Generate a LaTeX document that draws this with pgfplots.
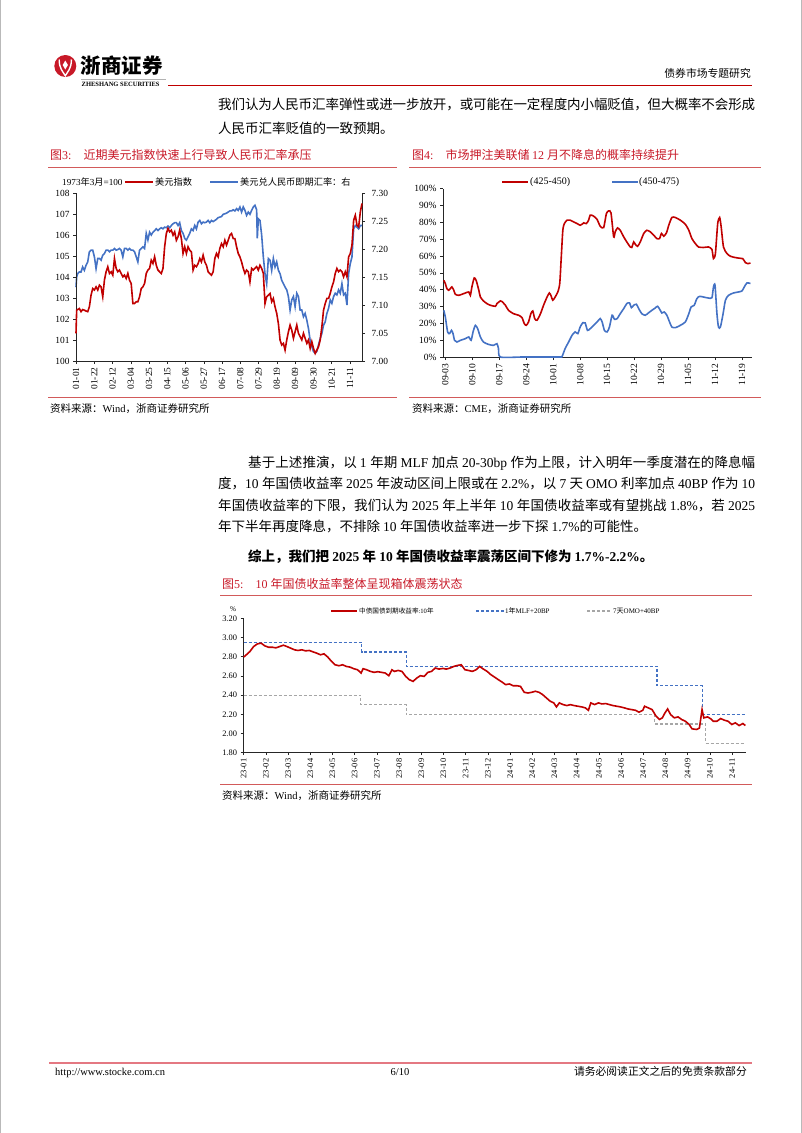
\documentclass[border=0pt]{standalone}
\usepackage{pgfplots}
\pgfplotsset{compat=1.18}
\usepackage{fontspec}
\setmainfont{Liberation Serif}
\newfontfamily\cjk{Noto Sans CJK SC}
% automatic switching between Latin (Liberation Serif) and CJK (Noto Sans CJK SC)
\XeTeXinterchartokenstate=1
\newXeTeXintercharclass\CJKcls
\makeatletter
\@tempcnta="3000
\loop\ifnum\@tempcnta<"3040 \XeTeXcharclass\@tempcnta=\CJKcls \advance\@tempcnta by 1 \repeat
\@tempcnta="4E00
\loop\ifnum\@tempcnta<"9FB0 \XeTeXcharclass\@tempcnta=\CJKcls \advance\@tempcnta by 1 \repeat
\@tempcnta="FF00
\loop\ifnum\@tempcnta<"FF60 \XeTeXcharclass\@tempcnta=\CJKcls \advance\@tempcnta by 1 \repeat
\makeatother
\XeTeXinterchartoks 0 \CJKcls = {\cjk}
\XeTeXinterchartoks 4095 \CJKcls = {\cjk}
\XeTeXinterchartoks \CJKcls 0 = {\rmfamily}
\XeTeXinterchartoks 4095 0 = {\rmfamily}
\XeTeXinterchartoks \CJKcls \CJKcls = {\hskip 0pt plus 0.8pt minus 0.2pt}

\definecolor{dred}{RGB}{192,0,0}
\definecolor{tred}{RGB}{200,25,40}
\definecolor{lred}{RGB}{210,90,90}
\definecolor{bblue}{RGB}{68,114,196}
\definecolor{ggray}{RGB}{166,166,166}
\definecolor{fpink}{RGB}{228,120,130}

\tikzset{tx/.style={inner sep=0pt, anchor=base west}}
\pgfplotsset{
  base/.style={scale only axis, clip=false,
    axis line style={black!85, line width=0.6pt},
    tick style={black!85, line width=0.5pt},
    major tick length=3pt, tick align=outside,
    minor tick num=0},
  c3/.style={base, width=286pt, height=168pt, at={(76pt,-361pt)}, anchor=south west,
    xmin=0, xmax=171,
    ticklabel style={font=\fontsize{9.4}{9.4}\selectfont}},
}

\begin{document}
\begin{tikzpicture}
\begin{scope}[x=1pt,y=-1pt]
\path[use as bounding box] (0,0) rectangle (802,1133);
\draw[gray!55, line width=1pt] (0.5,0)--(0.5,1133) (801.5,0)--(801.5,1133);
% ---------- header ----------
\fill[tred] (65.3,66) circle (11);
\draw[white, line width=1.4] (59.2,59.5) .. controls (59.2,69) and (63,71.5) .. (65.3,75.8) .. controls (67.6,71.5) and (71.4,69) .. (71.4,59.5);
\fill[white] (65.3,60.5) -- (67.9,65) -- (65.3,69.5) -- (62.7,65) -- cycle;
\node[tx, font=\fontsize{20.5}{21}\selectfont\bfseries] at (80.5,73.5) {浙商证券};
\draw[gray!60, line width=0.4] (81,79.3)--(166,79.3);
\node[tx, font=\fontsize{6.5}{7}\selectfont\bfseries] at (81.5,86) {ZHESHANG SECURITIES};
\draw[dred, line width=1.5] (168,85.5)--(752,85.5);
\node[inner sep=0pt, anchor=base east, font=\fontsize{10.8}{11}\selectfont] at (751,77.5) {债券市场专题研究};
% ---------- paragraph 1 ----------
\node[tx, font=\fontsize{13.5}{14}\selectfont] at (218,109) {\makebox[537pt][s]{我们认为人民币汇率弹性或进一步放开，或可能在一定程度内小幅贬值，但大概率不会形成}};
\node[tx, font=\fontsize{13.5}{14}\selectfont] at (218,133) {人民币汇率贬值的一致预期。};
% ---------- figure titles ----------
\node[tx, text=tred, font=\fontsize{12}{12}\selectfont] at (50,159.5) {图3:\hspace{1em}近期美元指数快速上行导致人民币汇率承压};
\node[tx, text=tred, font=\fontsize{12}{12}\selectfont] at (412,159.5) {图4:\hspace{1em}市场押注美联储 12 月不降息的概率持续提升};
\draw[lred, line width=0.7] (48,167)--(397,167) (409,167)--(761,167);
\draw[lred, line width=0.7] (48,397)--(397,397) (409,397)--(761,397);
\node[tx, font=\fontsize{10.5}{11}\selectfont] at (50,412.5) {资料来源：Wind，浙商证券研究所};
\node[tx, font=\fontsize{10.5}{11}\selectfont] at (412,412.5) {资料来源：CME，浙商证券研究所};
% legend chart 3
\node[inner sep=0pt, anchor=west, font=\fontsize{9.2}{9.2}\selectfont] at (62,182) {1973年3月=100};
\draw[dred, line width=2] (125,182)--(153,182);
\node[inner sep=0pt, anchor=west, font=\fontsize{9.2}{9.2}\selectfont] at (155,182) {美元指数};
\draw[bblue, line width=2] (210,182)--(238,182);
\node[inner sep=0pt, anchor=west, font=\fontsize{9.2}{9.2}\selectfont] at (240,182) {美元兑人民币即期汇率：右};
% legend chart 4
\draw[dred, line width=2] (502,182)--(528,182);
\node[inner sep=0pt, anchor=west, font=\fontsize{10}{10}\selectfont] at (530,182) {(425-450)};
\draw[bblue, line width=2] (612,182)--(638,182);
\node[inner sep=0pt, anchor=west, font=\fontsize{10}{10}\selectfont] at (639,182) {(450-475)};
% ---------- paragraph 2 ----------
\node[tx, font=\fontsize{13.5}{14}\selectfont] at (248,467) {\makebox[507pt][s]{基于上述推演，以 1 年期 MLF 加点 20-30bp 作为上限，计入明年一季度潜在的降息幅}};
\node[tx, font=\fontsize{13.5}{14}\selectfont] at (218,488.5) {\makebox[537pt][s]{度，10 年国债收益率 2025 年波动区间上限或在 2.2\%，以 7 天 OMO 利率加点 40BP 作为 10}};
\node[tx, font=\fontsize{13.5}{14}\selectfont] at (218,510) {\makebox[537pt][s]{年国债收益率的下限，我们认为 2025 年上半年 10 年国债收益率或有望挑战 1.8\%，若 2025}};
\node[tx, font=\fontsize{13.5}{14}\selectfont] at (218,531.5) {年下半年再度降息，不排除 10 年国债收益率进一步下探 1.7\%的可能性。};
\node[tx, font=\fontsize{13.5}{14}\selectfont\bfseries] at (248,561) {综上，我们把 2025 年 10 年国债收益率震荡区间下修为 1.7\%-2.2\%。};
% ---------- figure 5 frame ----------
\node[tx, text=tred, font=\fontsize{12}{12}\selectfont] at (222,588.5) {图5:\hspace{1em}10 年国债收益率整体呈现箱体震荡状态};
\draw[lred, line width=0.7] (220,595)--(752,595) (220,784)--(752,784);
\node[tx, font=\fontsize{10.5}{11}\selectfont] at (222,799) {资料来源：Wind，浙商证券研究所};
\node[inner sep=0pt, font=\fontsize{7.2}{7.5}\selectfont] at (233,609) {\%};
\draw[dred, line width=2.2] (331,611)--(357,611);
\node[inner sep=0pt, anchor=west, font=\fontsize{6.6}{7}\selectfont] at (359,611) {中债国债到期收益率:10年};
\draw[bblue, line width=1.2, dash pattern=on 3pt off 2pt] (476,611)--(504,611);
\node[inner sep=0pt, anchor=west, font=\fontsize{7}{7}\selectfont] at (505,611) {1年MLF+20BP};
\draw[ggray, line width=1.2, dash pattern=on 3pt off 2pt] (587,611)--(611,611);
\node[inner sep=0pt, anchor=west, font=\fontsize{7}{7}\selectfont] at (613,611) {7天OMO+40BP};
% ---------- footer ----------
\draw[fpink, line width=1.5] (49,1063)--(752,1063);
\node[tx, font=\fontsize{10.5}{11}\selectfont] at (55,1075) {http://www.stocke.com.cn};
\node[inner sep=0pt, anchor=base, font=\fontsize{10.5}{11}\selectfont] at (400,1075) {6/10};
\node[inner sep=0pt, anchor=base east, font=\fontsize{10.8}{11}\selectfont] at (747,1075) {请务必阅读正文之后的免责条款部分};
\end{scope}

% ================= Figure 3 =================
\begin{axis}[c3, ymin=7, ymax=7.3,
  ytick={7,7.05,7.1,7.15,7.2,7.25,7.3},
  yticklabels={7.00,7.05,7.10,7.15,7.20,7.25,7.30},
  yticklabel style={xshift=3pt},
  axis y line*=right, axis x line=none]
\addplot[bblue, line width=1.6pt] coordinates {
(0,7.132)(0.4,7.150)(1,7.156)(2,7.159)(3,7.159)(4,7.168)(5,7.162)(6,7.171)(7,7.177)(8,7.195)(9,7.198)(10,7.198)(11,7.186)(12,7.165)(13,7.183)(14,7.183)(15,7.180)(16,7.189)(17,7.192)(18,7.198)(19,7.198)(20,7.195)(21,7.198)(22,7.198)(23,7.201)(24,7.198)(25,7.199)(26,7.201)(27,7.198)(28,7.186)(29,7.201)(30,7.201)(31,7.198)(32,7.201)(33,7.198)(34,7.198)(35,7.195)(36,7.186)(37,7.177)(38,7.198)(39,7.201)(40,7.204)(41,7.201)(42,7.228)(43,7.216)(44,7.230)(45,7.225)(46,7.230)(47,7.233)(48,7.236)(49,7.233)(50,7.236)(51,7.238)(52,7.236)(53,7.239)(54,7.238)(55,7.241)(56,7.238)(57,7.242)(58,7.245)(59,7.247)(60,7.247)(61,7.242)(62,7.247)(63,7.233)(64,7.228)(65,7.219)(66,7.216)(67,7.222)(68,7.228)(69,7.236)(70,7.233)(71,7.242)(72,7.236)(73,7.248)(74,7.251)(75,7.245)(76,7.248)(77,7.247)(78,7.248)(79,7.251)(80,7.247)(81,7.251)(82,7.249)(83,7.251)(84,7.253)(85,7.256)(86,7.257)(87,7.258)(88,7.262)(89,7.263)(90,7.264)(91,7.266)(92,7.268)(93,7.268)(94,7.270)(95,7.268)(96,7.272)(97,7.269)(98,7.275)(99,7.266)(100,7.275)(101,7.269)(102,7.260)(103,7.266)(104,7.262)(105,7.269)(106,7.275)(107,7.278)(108,7.270)(108.4,7.219)(109,7.254)(110,7.251)(111,7.225)(112,7.186)(113,7.156)(114,7.138)(115,7.183)(116,7.180)(117,7.162)(118,7.183)(119,7.168)(120,7.177)(121,7.162)(122,7.156)(123,7.144)(124,7.138)(125,7.132)(126,7.127)(127,7.115)(128,7.091)(129,7.109)(130,7.115)(131,7.097)(132,7.121)(133,7.115)(134,7.091)(135,7.091)(136,7.079)(137,7.085)(138,7.073)(139,7.058)(140,7.037)(141,7.026)(142,7.017)(143,7.014)(144,7.017)(145,7.029)(146,7.040)(147,7.049)(148,7.064)(149,7.070)(150,7.085)(151,7.094)(152,7.109)(153,7.103)(154,7.115)(155,7.121)(156,7.118)(157,7.127)(158,7.121)(159,7.138)(160,7.118)(161,7.121)(162,7.100)(163,7.156)(164,7.174)(165,7.186)(166,7.236)(167,7.242)(168,7.239)(169,7.236)(170,7.242)(171,7.242)};
\end{axis}
\begin{axis}[c3, ymin=100, ymax=108,
  ytick={100,101,102,103,104,105,106,107,108},
  yticklabels={100,101,102,103,104,105,106,107,108},
  axis y line*=left, axis x line*=bottom,
  xtick={0,10.92,21.84,32.76,43.68,54.6,65.52,76.44,87.36,98.28,109.2,120.12,131.04,141.96,152.88,163.8},
  xticklabels={01-01,01-22,02-12,03-04,03-25,04-15,05-06,05-27,06-17,07-08,07-29,08-19,09-09,09-30,10-21,11-11},
  xticklabel style={rotate=90, anchor=east}]
\addplot[dred, line width=1.6pt] coordinates {
(0,101.32)(0.4,102.42)(2,102.50)(3,102.35)(4,102.45)(5,102.42)(6,102.38)(7,102.35)(8,102.58)(9,103.14)(10,103.45)(11,103.38)(12,103.53)(13,103.38)(14,103.61)(15,103.53)(16,103.06)(17,103.85)(18,104.25)(19,104.49)(20,104.17)(21,104.25)(22,104.09)(23,104.88)(24,104.41)(25,104.25)(26,104.33)(27,104.17)(28,104.01)(29,104.09)(30,103.93)(31,104.17)(32,103.85)(33,103.69)(34,102.74)(35,102.74)(36,102.82)(37,102.82)(38,103.06)(39,103.45)(40,103.53)(41,103.69)(42,104.17)(43,104.33)(44,104.41)(45,104.80)(46,104.64)(47,104.96)(48,104.56)(49,104.33)(50,104.25)(51,104.17)(52,104.41)(53,105.44)(54,106.07)(55,106.31)(56,106.15)(57,106.23)(58,105.99)(59,106.15)(60,105.75)(61,105.91)(62,106.23)(63,105.83)(64,105.12)(65,105.44)(66,105.12)(67,105.44)(68,105.28)(69,105.20)(70,104.33)(71,104.56)(72,104.49)(73,104.64)(74,104.88)(75,104.72)(76,105.04)(77,104.72)(78,104.56)(79,104.25)(80,104.17)(81,104.09)(82,104.25)(83,104.88)(84,105.12)(85,104.96)(86,105.36)(87,105.59)(88,105.44)(89,105.75)(90,105.52)(91,105.75)(92,105.99)(93,106.07)(94,105.83)(95,105.83)(96,105.44)(97,105.12)(98,104.96)(99,104.72)(100,104.41)(101,104.17)(102,104.33)(103,104.25)(104,103.77)(105,104.41)(106,104.33)(107,104.41)(108,104.49)(109,104.33)(110,104.56)(111,104.41)(112,104.17)(113,102.74)(114,103.06)(115,103.14)(116,103.22)(117,102.82)(118,102.98)(119,102.58)(120,102.27)(121,101.79)(122,101.00)(123,100.76)(124,100.84)(125,100.52)(126,101.00)(127,101.39)(128,101.71)(129,101.47)(130,101.08)(131,101.39)(132,101.71)(133,101.32)(134,101.16)(135,101.00)(136,101.32)(137,101.08)(138,100.84)(139,101.00)(140,100.60)(141,100.92)(142,100.60)(143,100.36)(144,100.52)(145,100.68)(146,101.00)(147,101.63)(148,102.42)(149,102.74)(150,102.98)(151,102.98)(152,103.22)(153,103.53)(154,103.77)(155,104.17)(156,104.41)(157,104.25)(158,104.33)(159,104.25)(160,104.01)(161,104.25)(162,104.01)(163,104.96)(164,105.12)(165,105.52)(166,106.70)(167,106.94)(168,106.47)(169,106.39)(170,107.10)(171,107.50)};
\end{axis}

% ================= Figure 4 =================
\begin{axis}[base, width=309pt, height=168.5pt, at={(443pt,-357pt)}, anchor=south west,
  xmin=-0.6, xmax=79.6, ymin=0, ymax=100,
  axis y line*=left, axis x line*=bottom,
  ticklabel style={font=\fontsize{9.5}{9.5}\selectfont},
  ytick={0,10,20,30,40,50,60,70,80,90,100},
  yticklabels={0\%,10\%,20\%,30\%,40\%,50\%,60\%,70\%,80\%,90\%,100\%},
  xtick={0,7,14,21,28,35,42,49,56,63,70,77},
  xticklabels={09-03,09-10,09-17,09-24,10-01,10-08,10-15,10-22,10-29,11-05,11-12,11-19},
  xticklabel style={rotate=90, anchor=east}]
\addplot[dred, line width=1.6pt, smooth, tension=0.4] coordinates {
(-0.4,45.5)(0,43.6)(0.4,40.6)(0.9,39.6)(1.3,40.6)(1.7,41.6)(2.2,39.6)(2.6,37.2)(3.5,36.6)(4.3,37.2)(5.2,38.0)(6.1,38.6)(6.5,36.6)(6.9,41.6)(7.5,46.9)(8.0,45.5)(8.7,39.6)(9.1,35.6)(9.9,33.3)(10.8,31.7)(11.7,30.7)(13.0,30.1)(13.4,31.7)(14.3,33.3)(14.7,32.9)(15.6,30.7)(16.4,27.7)(17.7,25.7)(19.0,24.8)(19.9,23.4)(20.5,19.8)(21.0,18.8)(21.6,20.8)(22.2,25.7)(22.7,27.3)(23.2,22.8)(23.8,21.8)(24.7,25.7)(25.5,30.7)(26.4,35.6)(27.0,38.0)(27.4,36.6)(27.9,33.7)(28.5,35.6)(29.2,38.6)(29.7,43.6)(30.1,59.4)(30.5,75.2)(30.9,79.2)(31.6,81.2)(32.4,81.2)(33.3,80.2)(34.2,79.2)(35.0,78.2)(35.5,78.8)(35.9,79.6)(36.6,79.2)(37.2,81.2)(37.6,84.2)(38.5,83.6)(39.4,81.6)(40.2,77.6)(41.1,76.8)(41.8,85.1)(42.4,86.7)(43.0,85.5)(43.7,71.3)(44.1,74.3)(44.7,76.6)(45.4,75.2)(46.3,71.3)(47.1,68.3)(48.0,65.3)(48.4,65.0)(48.9,68.3)(49.3,66.9)(49.9,65.7)(50.6,68.3)(51.5,73.3)(52.3,75.2)(53.2,74.3)(54.1,72.3)(54.9,70.3)(55.6,70.3)(56.1,73.3)(56.7,71.7)(57.4,73.7)(58.0,78.2)(58.8,82.8)(59.7,82.8)(61.0,81.2)(62.3,78.8)(63.2,75.2)(64.0,70.3)(64.9,67.3)(65.7,65.3)(67.0,65.0)(68.3,65.3)(69.2,63.8)(69.6,58.4)(70.1,61.4)(70.7,79.2)(71.2,82.8)(71.6,77.2)(72.2,65.3)(73.1,61.4)(74.0,59.8)(75.3,59.0)(76.5,58.6)(77.2,58.4)(77.9,56.0)(78.5,55.4)(79.2,55.8)};
\addplot[bblue, line width=1.6pt, smooth, tension=0.4] coordinates {
(-0.4,27.7)(0,23.8)(0.6,14.9)(1.1,13.9)(1.6,15.8)(2.0,13.9)(2.4,9.9)(3.0,8.9)(3.9,9.9)(5.2,10.9)(6.1,11.9)(6.7,9.9)(7.2,14.9)(7.8,18.8)(8.4,16.8)(9.1,11.9)(9.9,8.9)(11.2,7.5)(12.5,6.9)(13.4,7.9)(13.8,5.0)(14.3,0)(20,0)(25,0)(29.8,0)(30.3,0.3)(31.1,5.0)(32.0,8.9)(32.9,12.9)(33.7,14.9)(34.4,13.9)(35.0,17.8)(35.7,20.4)(36.3,20.2)(36.9,15.8)(37.6,16.8)(38.5,18.8)(39.4,20.8)(40.2,22.8)(40.7,20.8)(41.3,15.8)(42.0,14.9)(42.6,17.8)(43.3,24.8)(43.9,22.4)(44.6,22.8)(45.4,25.7)(46.3,28.7)(47.1,31.7)(47.8,32.1)(48.3,29.3)(48.9,30.7)(49.6,31.3)(50.2,28.7)(51.0,25.7)(51.9,24.8)(52.8,26.3)(53.6,27.7)(54.5,29.1)(55.1,30.1)(55.8,27.7)(56.2,26.1)(56.8,26.7)(57.5,24.8)(58.2,20.8)(58.8,17.8)(59.7,17.4)(61.0,18.8)(62.3,20.8)(63.2,25.7)(63.8,29.7)(64.6,30.7)(65.3,34.7)(66.0,36.0)(67.0,35.6)(68.3,35.0)(69.2,35.2)(69.6,41.6)(70.0,42.6)(70.5,25.7)(70.9,17.8)(71.4,17.8)(72.1,25.7)(72.7,33.7)(73.5,36.6)(74.8,38.0)(76.1,38.6)(77.0,39.2)(77.6,41.6)(78.3,44.0)(79.2,43.6)};
\end{axis}

% ================= Figure 5 =================
\begin{axis}[base, width=503pt, height=134.4pt, at={(243pt,-752.7pt)}, anchor=south west,
  xmin=-0.03, xmax=22.63, ymin=1.8, ymax=3.2,
  axis y line*=left, axis x line*=bottom,
  ticklabel style={font=\fontsize{8.4}{8.4}\selectfont},
  ytick={1.8,2.0,2.2,2.4,2.6,2.8,3.0,3.2},
  yticklabels={1.80,2.00,2.20,2.40,2.60,2.80,3.00,3.20},
  xtick={0,1,2,3,4,5,6,7,8,9,10,11,12,13,14,15,16,17,18,19,20,21,22},
  xticklabels={23-01,23-02,23-03,23-04,23-05,23-06,23-07,23-08,23-09,23-10,23-11,23-12,24-01,24-02,24-03,24-04,24-05,24-06,24-07,24-08,24-09,24-10,24-11},
  xticklabel style={rotate=90, anchor=east},
  major tick length=2.5pt]
\addplot[ggray, line width=1.2pt, dash pattern=on 3pt off 2pt] coordinates {
(0,2.40)(5.26,2.40)(5.26,2.30)(7.32,2.30)(7.32,2.20)(18.52,2.20)(18.52,2.10)(20.8,2.10)(20.8,1.90)(22.6,1.90)};
\addplot[bblue, line width=1.2pt, dash pattern=on 3pt off 2pt] coordinates {
(0,2.95)(5.32,2.95)(5.32,2.85)(7.32,2.85)(7.32,2.70)(18.62,2.70)(18.62,2.50)(20.66,2.50)(20.66,2.20)(22.6,2.20)};
\addplot[dred, line width=1.6pt] coordinates {
(0,2.796)(0.12,2.820)(0.28,2.854)(0.45,2.906)(0.62,2.934)(0.79,2.941)(0.95,2.913)(1.12,2.899)(1.29,2.899)(1.45,2.892)(1.62,2.906)(1.79,2.920)(1.95,2.906)(2.12,2.889)(2.29,2.872)(2.45,2.865)(2.62,2.872)(2.79,2.861)(2.96,2.865)(3.12,2.851)(3.29,2.837)(3.46,2.820)(3.62,2.830)(3.79,2.796)(3.96,2.751)(4.12,2.716)(4.29,2.706)(4.46,2.716)(4.62,2.699)(4.79,2.692)(4.96,2.675)(5.13,2.664)(5.29,2.630)(5.38,2.675)(5.54,2.664)(5.71,2.647)(5.88,2.637)(6.04,2.644)(6.21,2.637)(6.38,2.630)(6.54,2.602)(6.68,2.664)(6.79,2.647)(6.96,2.657)(7.13,2.647)(7.30,2.595)(7.46,2.561)(7.63,2.543)(7.80,2.578)(7.96,2.602)(8.13,2.595)(8.30,2.637)(8.46,2.647)(8.63,2.682)(8.80,2.671)(8.97,2.678)(9.13,2.671)(9.30,2.682)(9.47,2.699)(9.63,2.709)(9.80,2.716)(9.97,2.664)(10.13,2.657)(10.30,2.647)(10.47,2.664)(10.63,2.699)(10.80,2.671)(10.97,2.647)(11.14,2.612)(11.30,2.588)(11.47,2.561)(11.64,2.536)(11.80,2.509)(11.97,2.516)(12.14,2.498)(12.30,2.498)(12.47,2.491)(12.64,2.429)(12.81,2.422)(12.97,2.429)(13.14,2.440)(13.31,2.429)(13.47,2.405)(13.64,2.370)(13.81,2.336)(13.97,2.319)(14.09,2.277)(14.22,2.319)(14.39,2.301)(14.56,2.291)(14.72,2.301)(14.89,2.291)(15.06,2.284)(15.23,2.277)(15.39,2.267)(15.53,2.242)(15.64,2.319)(15.81,2.301)(15.98,2.319)(16.14,2.308)(16.31,2.312)(16.48,2.301)(16.64,2.291)(16.81,2.284)(16.98,2.277)(17.15,2.267)(17.31,2.256)(17.48,2.249)(17.65,2.242)(17.81,2.222)(17.98,2.242)(18.06,2.284)(18.23,2.267)(18.40,2.249)(18.56,2.187)(18.73,2.146)(18.86,2.163)(18.98,2.215)(19.10,2.256)(19.23,2.198)(19.40,2.163)(19.57,2.173)(19.73,2.146)(19.90,2.128)(20.07,2.094)(20.20,2.049)(20.40,2.042)(20.53,2.056)(20.65,2.249)(20.73,2.163)(20.90,2.173)(21.04,2.153)(21.15,2.128)(21.32,2.128)(21.49,2.156)(21.65,2.139)(21.82,2.128)(21.99,2.094)(22.15,2.111)(22.32,2.083)(22.49,2.104)(22.60,2.083)};
\end{axis}
\end{tikzpicture}
\end{document}
